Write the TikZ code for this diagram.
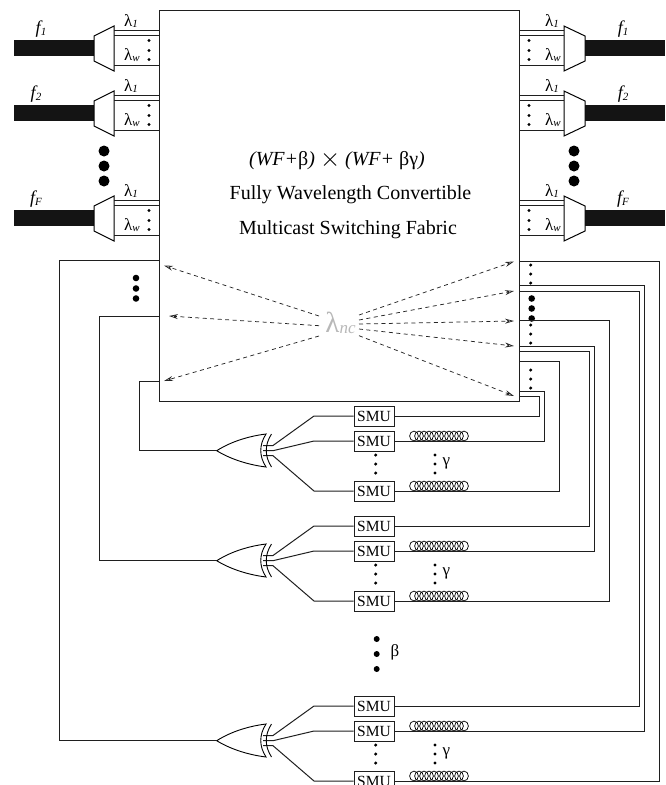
\documentclass[tikz,border=0pt]{standalone}
\usepackage{fontspec}
\setmainfont{Liberation Serif}
\usetikzlibrary{arrows.meta}
\definecolor{ln}{gray}{0.12}
\tikzset{
  x=1pt,y=-1pt,
  wire/.style={draw=ln,line width=1pt},
  smubox/.style={draw=ln,line width=1pt,fill=white,minimum width=40pt,minimum height=20pt,inner sep=0pt,font=\fontsize{15.5}{15.5}\selectfont},
  demux/.style={draw=black,line width=1pt,fill=white},
  fibre/.style={fill=black!92,draw=none},
  lab/.style={inner sep=0pt,font=\fontsize{17}{17}\selectfont},
  flab/.style={inner sep=0pt,font=\fontsize{18}{18}\selectfont\itshape},
  dash arrow/.style={draw=black!85,line width=0.75pt,dash pattern=on 4pt off 3.5pt,-{Stealth[open,length=9pt,width=5pt]}},
  bigtxt/.style={inner sep=0pt,font=\fontsize{20}{20}\selectfont},
  bigdot/.style={circle,fill=black,inner sep=0pt,minimum size=11pt},
  middot/.style={circle,fill=black,inner sep=0pt,minimum size=6.6pt},
  smalldot/.style={circle,fill=black,inner sep=0pt,minimum size=3.4pt},
}
\newcommand{\lamone}{λ\raisebox{-0.5pt}{\fontsize{11}{11}\selectfont\itshape 1}}
\newcommand{\lamdub}{λ\raisebox{-0.5pt}{\fontsize{11}{11}\selectfont\itshape w}}
\newcommand{\fsub}[1]{f\raisebox{-2.5pt}{\fontsize{11}{11}\selectfont #1}}
\begin{document}
\begin{tikzpicture}
\useasboundingbox (0,0) rectangle (665,785);
\clip (0,0) rectangle (665,785);
% fabric
\node[draw=ln,line width=1pt,minimum width=360pt,minimum height=391pt,inner sep=0pt] (fab) at (339.5,205.5) {};
\node[bigtxt] (t1) at (337,161) {\textit{(WF+}β\textit{)} \raisebox{-1pt}{\scalebox{1.25}{$\times$}} \textit{(WF+} βγ\textit{)}};
\node[bigtxt] (t2) at (350.5,195) {Fully Wavelength Convertible};
\node[bigtxt] (t3) at (348,230) {Multicast Switching Fabric};
\node[inner sep=0pt,text=black!28,font=\fontsize{29}{29}\selectfont] (lnc) at (340.5,323) {λ\raisebox{-1pt}{\fontsize{17}{17}\selectfont\itshape nc}};
% ports
\foreach \nm/\sh/\fb/\lx in {a/0/1/41,b/65/2/36,c/170/F/36}{
  \begin{scope}[yshift=-\sh pt]
    \fill[fibre] (14,40) rectangle (94,56);
    \draw[demux] (94,36) -- (114,26) -- (114,71) -- (94,61) -- cycle;
    \coordinate (La\nm) at (114,30.5);
    \coordinate (Lb\nm) at (114,35.5);
    \coordinate (Lc\nm) at (114,65.5);
    \draw[wire] (La\nm) -- (fab.west |- La\nm);
    \draw[wire] (Lb\nm) -- (fab.west |- Lb\nm);
    \draw[wire] (Lc\nm) -- (fab.west |- Lc\nm);
    \node[smalldot] (Ld\nm) at (149,40.5) {};
    \node[smalldot] (Le\nm) at (149,50.5) {};
    \node[smalldot] (Lf\nm) at (149,59.5) {};
    \node[lab] (la\nm) at (131,21) {\lamone};
    \node[lab] (lb\nm) at (132,55) {\lamdub};
    \node[flab] (lf\nm) at (\lx,29) {\fsub{\fb}};
    \fill[fibre] (585,40) rectangle (665,56);
    \draw[demux] (585,36) -- (564,26) -- (564,71) -- (585,61) -- cycle;
    \coordinate (Ra\nm) at (564,30.5);
    \coordinate (Rb\nm) at (564,35.5);
    \coordinate (Rc\nm) at (564,65.5);
    \draw[wire] (Ra\nm) -- (fab.east |- Ra\nm);
    \draw[wire] (Rb\nm) -- (fab.east |- Rb\nm);
    \draw[wire] (Rc\nm) -- (fab.east |- Rc\nm);
    \node[smalldot] (Rd\nm) at (529,40.5) {};
    \node[smalldot] (Re\nm) at (529,50.5) {};
    \node[smalldot] (Rf\nm) at (529,59.5) {};
    \node[lab] (ra\nm) at (552,21) {\lamone};
    \node[lab] (rb\nm) at (553,55) {\lamdub};
    \node[flab] (rf\nm) at (623,29) {\fsub{\fb}};
  \end{scope}
}
\foreach \yy in {151,166,181}{
  \node[bigdot] (bl\yy) at (104,\yy) {};
  \node[bigdot] (br\yy) at (574,\yy) {};
}
% dashed rays
\coordinate (d1) at (319,316); \coordinate (e1) at (164,265.5);
\coordinate (d2) at (319,325.7); \coordinate (e2) at (169,316);
\coordinate (d3) at (319,336); \coordinate (e3) at (164,381);
\foreach \i in {1,2,3}{\draw[dash arrow] (d\i) -- (e\i);}
\coordinate (g1) at (359,315); \coordinate (h1) at (514,261.5);
\coordinate (g2) at (359,320); \coordinate (h2) at (514,291);
\coordinate (g3) at (359,324); \coordinate (h3) at (514,321);
\coordinate (g4) at (359,329); \coordinate (h4) at (514,346);
\coordinate (g5) at (359,335.7); \coordinate (h5) at (514,396);
\foreach \i in {1,...,5}{\draw[dash arrow] (g\i) -- (h\i);}
% dots on fabric edges
\foreach \yy in {278,288.5,298.5}{\node[middot] at (136,\yy) {};}
\foreach \yy in {265,274,283,325,334,343,370,379,388}{\node[smalldot] at (530.7,\yy) {};}
\foreach \yy in {298.5,308.5,318.5}{\node[middot] at (531.7,\yy) {};}
% groups
\foreach \g/\sh in {p/0,q/110,r/290}{
  \begin{scope}[yshift=-\sh pt]
    \node[smubox] (\g1) at (374,416) {SMU};
    \node[smubox] (\g2) at (374,441) {SMU};
    \node[smubox] (\g3) at (374,491) {SMU};
    \coordinate (\g t) at (216.7,450.7);
    \coordinate (\g i1) at (263,445.5);
    \coordinate (\g i2) at (263,450.7);
    \coordinate (\g i3) at (263,455.7);
    \coordinate (\g a1) at (314,416);
    \coordinate (\g a2) at (314,441);
    \coordinate (\g a3) at (314,491);
    \coordinate (\g b1) at (273,445.5);
    \coordinate (\g b2) at (273,450.7);
    \coordinate (\g b3) at (273,455.7);
    \foreach \k in {1,2,3}{\draw[wire] (\g\k.west) -- (\g a\k) -- (\g b\k) -- (\g i\k);}
    \draw[line width=0.9pt,black] (\g t) .. controls (232,441) and (250,436) .. (266,434) .. controls (259,445) and (259,456) .. (266,467) .. controls (250,465) and (232,460) .. (\g t) -- cycle;
    \draw[line width=0.9pt,black] (271.5,434) .. controls (264.5,445) and (264.5,456) .. (271.5,467);
    \foreach \yy in {455,464,473}{
      \node[smalldot] at (375.7,\yy) {};
      \node[smalldot] at (435,\yy) {};
    }
    \node[lab] (gam\g) at (446.5,463) {γ};
    \foreach \k in {0,...,10}{
      \draw[black,line width=0.7pt] (414+\k*5,436) ellipse (4.4 and 4.9);
      \draw[black,line width=0.7pt] (414+\k*5,486) ellipse (4.4 and 4.9);
    }
  \end{scope}
}
% outputs of gates to fabric
\draw[wire] (pt) -- (139,450.7) |- (fab.west |- 0,381);
\draw[wire] (qt) -- (99,560.7) |- (fab.west |- 0,316);
\draw[wire] (rt) -- (59,740.7) |- (fab.west |- 0,260.7);
% SMU outputs and delay lines back to fabric
\draw[wire] (p1.east) -- (539.3,416) |- (fab.east |- 0,396);
\draw[wire] (p2.east) -- (544.3,441) |- (fab.east |- 0,391);
\draw[wire] (p3.east) -- (559,491) |- (fab.east |- 0,361);
\draw[wire] (q1.east) -- (589.3,526) |- (fab.east |- 0,351);
\draw[wire] (q2.east) -- (594.5,551) |- (fab.east |- 0,346);
\draw[wire] (q3.east) -- (609.3,601) |- (fab.east |- 0,320.7);
\draw[wire] (r1.east) -- (639.5,706) |- (fab.east |- 0,291);
\draw[wire] (r2.east) -- (644.5,731) |- (fab.east |- 0,285.5);
\draw[wire] (r3.east) -- (659.5,781) |- (fab.east |- 0,261);
% beta
\node[circle,fill=black,inner sep=0pt,minimum size=6pt] (bd1) at (376.7,639) {};
\node[circle,fill=black,inner sep=0pt,minimum size=6pt] (bd2) at (376.7,654) {};
\node[circle,fill=black,inner sep=0pt,minimum size=6pt] (bd3) at (376.7,669) {};
\node[lab] (beta) at (395,652) {β};
\end{tikzpicture}
\end{document}
